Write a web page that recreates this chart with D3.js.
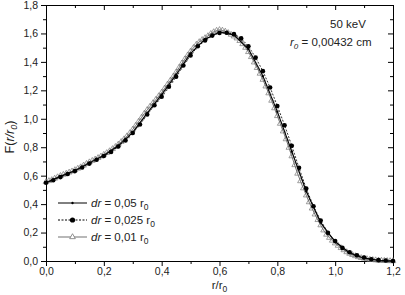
<!DOCTYPE html>
<html>
<head>
<meta charset="utf-8">
<script src="https://cdn.jsdelivr.net/npm/d3@7"></script>
<style>
  body { margin: 0; background: #fff; }
  svg { font-family: "Liberation Sans", Arial, sans-serif; }
  .axis path, .axis line { stroke: #000; stroke-width: 1; }
  .axis text { fill: #222; font-size: 10.5px; }
</style>
</head>
<body>
<div id="chart"></div>
<script>
// tick labels
const xTicks = [0, 0.2, 0.4, 0.6, 0.8, 1.0, 1.2];
const yTicks = [0, 0.2, 0.4, 0.6, 0.8, 1.0, 1.2, 1.4, 1.6, 1.8];

// dr = 0,05 r0 (solid, small dots)
const x05 = [0, 0.05, 0.1, 0.15, 0.2, 0.25, 0.3, 0.35, 0.4, 0.45, 0.5, 0.55, 0.6,
  0.65, 0.7, 0.75, 0.8, 0.85, 0.9, 0.95, 1.0, 1.05, 1.1, 1.15, 1.2];
const y05 = [0.55, 0.595, 0.635, 0.69, 0.742, 0.81, 0.905, 1.04, 1.17, 1.31, 1.46, 1.56, 1.61,
  1.59, 1.49, 1.30, 1.05, 0.77, 0.49, 0.27, 0.135, 0.057, 0.02, 0.005, 0.0];

// dr = 0,025 r0 (dotted, filled circles)
const x025 = [0, 0.025, 0.05, 0.075, 0.1, 0.125, 0.15, 0.175, 0.2, 0.225, 0.25, 0.275, 0.3,
  0.325, 0.35, 0.375, 0.4, 0.425, 0.45, 0.475, 0.5, 0.525, 0.55, 0.575, 0.6,
  0.625, 0.65, 0.675, 0.7, 0.725, 0.75, 0.775, 0.8, 0.825, 0.85, 0.875, 0.9,
  0.925, 0.95, 0.975, 1.0, 1.025, 1.05, 1.075, 1.1, 1.125, 1.15, 1.175, 1.2];
const y025 = [0.55, 0.568, 0.59, 0.612, 0.632, 0.657, 0.685, 0.712, 0.738, 0.767, 0.805, 0.848, 0.90,
  0.96, 1.03, 1.095, 1.155, 1.225, 1.295, 1.375, 1.445, 1.51, 1.55, 1.585, 1.603,
  1.605, 1.595, 1.565, 1.51, 1.43, 1.335, 1.22, 1.09, 0.955, 0.81, 0.655, 0.51,
  0.385, 0.285, 0.198, 0.14, 0.092, 0.062, 0.04, 0.025, 0.012, 0.006, 0.003, 0.0];

// dr = 0,01 r0 (thin line, open triangles)
const x01 = [0, 0.01, 0.02, 0.03, 0.04, 0.05, 0.06, 0.07, 0.08, 0.09,
  0.1, 0.11, 0.12, 0.13, 0.14, 0.15, 0.16, 0.17, 0.18, 0.19,
  0.2, 0.21, 0.22, 0.23, 0.24, 0.25, 0.26, 0.27, 0.28, 0.29,
  0.3, 0.31, 0.32, 0.33, 0.34, 0.35, 0.36, 0.37, 0.38, 0.39,
  0.4, 0.41, 0.42, 0.43, 0.44, 0.45, 0.46, 0.47, 0.48, 0.49,
  0.5, 0.51, 0.52, 0.53, 0.54, 0.55, 0.56, 0.57, 0.58, 0.59,
  0.6, 0.61, 0.62, 0.63, 0.64, 0.65, 0.66, 0.67, 0.68, 0.69,
  0.7, 0.71, 0.72, 0.73, 0.74, 0.75, 0.76, 0.77, 0.78, 0.79,
  0.8, 0.81, 0.82, 0.83, 0.84, 0.85, 0.86, 0.87, 0.88, 0.89,
  0.9, 0.91, 0.92, 0.93, 0.94, 0.95, 0.96, 0.97, 0.98, 0.99,
  1.0, 1.01, 1.02, 1.03, 1.04, 1.05, 1.06, 1.07, 1.08, 1.09,
  1.1, 1.11, 1.12, 1.13, 1.14, 1.15, 1.16, 1.17, 1.18, 1.19, 1.2];
const y01 = [0.556, 0.563, 0.57, 0.58, 0.59, 0.599, 0.607, 0.615, 0.623, 0.631,
  0.64, 0.65, 0.66, 0.672, 0.684, 0.695, 0.705, 0.715, 0.725, 0.736,
  0.748, 0.76, 0.773, 0.788, 0.803, 0.82, 0.838, 0.857, 0.878, 0.9,
  0.925, 0.952, 0.98, 1.008, 1.037, 1.063, 1.087, 1.111, 1.135, 1.16,
  1.185, 1.213, 1.241, 1.269, 1.297, 1.327, 1.359, 1.39, 1.419, 1.447,
  1.474, 1.499, 1.522, 1.54, 1.555, 1.568, 1.582, 1.598, 1.61, 1.62,
  1.625, 1.621, 1.614, 1.604, 1.592, 1.58, 1.566, 1.548, 1.526, 1.5,
  1.47, 1.435, 1.397, 1.358, 1.318, 1.275, 1.228, 1.18, 1.128, 1.075,
  1.02, 0.966, 0.912, 0.857, 0.797, 0.737, 0.675, 0.615, 0.562, 0.512,
  0.462, 0.414, 0.37, 0.328, 0.289, 0.252, 0.216, 0.186, 0.164, 0.144,
  0.125, 0.108, 0.092, 0.077, 0.063, 0.052, 0.043, 0.035, 0.028, 0.022,
  0.018, 0.014, 0.01, 0.008, 0.006, 0.004, 0.003, 0.002, 0.001, 0.0, 0.0];

const fmt = d => d3.format(".1f")(d).replace(".", ",");

var margin = { top: 5, right: 12, bottom: 34, left: 46 },
  width = 405 - margin.left - margin.right,
  height = 295 - margin.top - margin.bottom;

var svg = d3.select("#chart")
  .append("svg")
  .attr("width", 405)
  .attr("height", 295)
  .append("g")
  .attr("transform", "translate(" + margin.left + "," + margin.top + ")");

var x = d3.scaleLinear().domain([0, 1.2]).range([0, width]);
var y = d3.scaleLinear().domain([0, 1.8]).range([height, 0]);

const xMinor = d3.range(0.1, 1.2, 0.2);
const yMinor = d3.range(0.1, 1.8, 0.2);

// bottom axis: outward ticks
svg.append("g").attr("class", "axis")
  .attr("transform", "translate(0," + height + ")")
  .call(d3.axisBottom(x).tickValues(xTicks).tickFormat(fmt).tickSize(5).tickPadding(2));
svg.append("g").attr("class", "axis")
  .attr("transform", "translate(0," + height + ")")
  .call(d3.axisBottom(x).tickValues(xMinor).tickFormat("").tickSize(3))
  .select(".domain").remove();
// left axis
svg.append("g").attr("class", "axis")
  .call(d3.axisLeft(y).tickValues(yTicks).tickFormat(fmt).tickSize(5).tickPadding(3));
svg.append("g").attr("class", "axis")
  .call(d3.axisLeft(y).tickValues(yMinor).tickFormat("").tickSize(3))
  .select(".domain").remove();
// top axis: inward ticks
svg.append("g").attr("class", "axis")
  .call(d3.axisTop(x).tickValues(xTicks).tickFormat("").tickSize(-5));
svg.append("g").attr("class", "axis")
  .call(d3.axisTop(x).tickValues(xMinor).tickFormat("").tickSize(-3))
  .select(".domain").remove();
// right axis: inward ticks
svg.append("g").attr("class", "axis")
  .attr("transform", "translate(" + width + ",0)")
  .call(d3.axisRight(y).tickValues(yTicks).tickFormat("").tickSize(-5));
svg.append("g").attr("class", "axis")
  .attr("transform", "translate(" + width + ",0)")
  .call(d3.axisRight(y).tickValues(yMinor).tickFormat("").tickSize(-3))
  .select(".domain").remove();

var line = d3.line().x(d => x(d[0])).y(d => y(d[1]));
const d01 = x01.map((v, i) => [v, y01[i]]);
const d025 = x025.map((v, i) => [v, y025[i]]);
const d05 = x05.map((v, i) => [v, y05[i]]);
var tri = d3.symbol().type(d3.symbolTriangle).size(14);

// dr = 0,01
svg.append("path").datum(d01)
  .attr("d", line).attr("fill", "none").attr("stroke", "#333").attr("stroke-width", 0.7);
svg.selectAll(".tri").data(d01).enter().append("path")
  .attr("class", "tri")
  .attr("d", tri)
  .attr("transform", d => "translate(" + x(d[0]) + "," + y(d[1]) + ")")
  .attr("fill", "none").attr("stroke", "#777").attr("stroke-width", 0.7);

// dr = 0,025
svg.append("path").datum(d025)
  .attr("d", line).attr("fill", "none").attr("stroke", "#000")
  .attr("stroke-width", 0.8).attr("stroke-dasharray", "2,1.5");
svg.selectAll(".dot").data(d025).enter().append("circle")
  .attr("class", "dot")
  .attr("cx", d => x(d[0])).attr("cy", d => y(d[1])).attr("r", 2.3)
  .attr("fill", "#000");

// dr = 0,05
svg.append("path").datum(d05)
  .attr("d", line).attr("fill", "none").attr("stroke", "#000").attr("stroke-width", 1.1);
svg.selectAll(".sdot").data(d05).enter().append("circle")
  .attr("class", "sdot")
  .attr("cx", d => x(d[0])).attr("cy", d => y(d[1])).attr("r", 1.2)
  .attr("fill", "#000");

// legend
var leg = svg.append("g").attr("transform", "translate(12,198)");
const legLabels = ["0,05", "0,025", "0,01"];
legLabels.forEach((lab, i) => {
  var g = leg.append("g").attr("transform", "translate(0," + (i * 17) + ")");
  var ln = g.append("line").attr("x1", 0).attr("x2", 29).attr("y1", 0).attr("y2", 0)
    .attr("stroke", i === 2 ? "#333" : "#000").attr("stroke-width", i === 2 ? 0.7 : 1);
  if (i === 0) {
    g.append("circle").attr("cx", 14.5).attr("cy", 0).attr("r", 1.2).attr("fill", "#000");
  } else if (i === 1) {
    ln.attr("stroke-dasharray", "2,1.5");
    g.append("circle").attr("cx", 14.5).attr("cy", 0).attr("r", 2.6).attr("fill", "#000");
  } else {
    g.append("path").attr("d", tri).attr("transform", "translate(14.5,0)")
      .attr("fill", "#fff").attr("stroke", "#777").attr("stroke-width", 0.8);
  }
  var t = g.append("text").attr("x", 33).attr("y", 4).attr("font-size", "11.5px").attr("fill", "#222");
  t.append("tspan").attr("font-style", "italic").text("dr");
  t.append("tspan").text(" = " + lab + " r");
  t.append("tspan").attr("font-size", "8.5px").attr("dy", 3).text("0");
});

// annotation
svg.append("text").attr("x", 284).attr("y", 23).attr("font-size", "11.5px").attr("fill", "#222")
  .text("50 keV");
var ann = svg.append("text").attr("x", 244).attr("y", 41).attr("font-size", "11.5px").attr("fill", "#222");
ann.append("tspan").attr("font-style", "italic").text("r");
ann.append("tspan").attr("font-style", "italic").attr("font-size", "8px").attr("dy", 3).text("0");
ann.append("tspan").attr("dy", -3).text(" = 0,00432 cm");

// axis titles
var xt = svg.append("text").attr("x", x(0.6)).attr("y", height + 28)
  .attr("text-anchor", "middle").attr("font-size", "11.5px").attr("fill", "#222");
xt.append("tspan").text("r/r");
xt.append("tspan").attr("font-size", "8.5px").attr("dy", 3).text("0");

var yt = svg.append("text")
  .attr("transform", "translate(-32," + (height / 2 + 4) + ") rotate(-90)")
  .attr("text-anchor", "middle").attr("font-size", "12.5px").attr("fill", "#222");
yt.append("tspan").text("F(");
yt.append("tspan").attr("font-style", "italic").text("r/r");
yt.append("tspan").attr("font-style", "italic").attr("font-size", "9px").attr("dy", 3).text("0");
yt.append("tspan").attr("dy", -3).text(")");
</script>
</body>
</html>
